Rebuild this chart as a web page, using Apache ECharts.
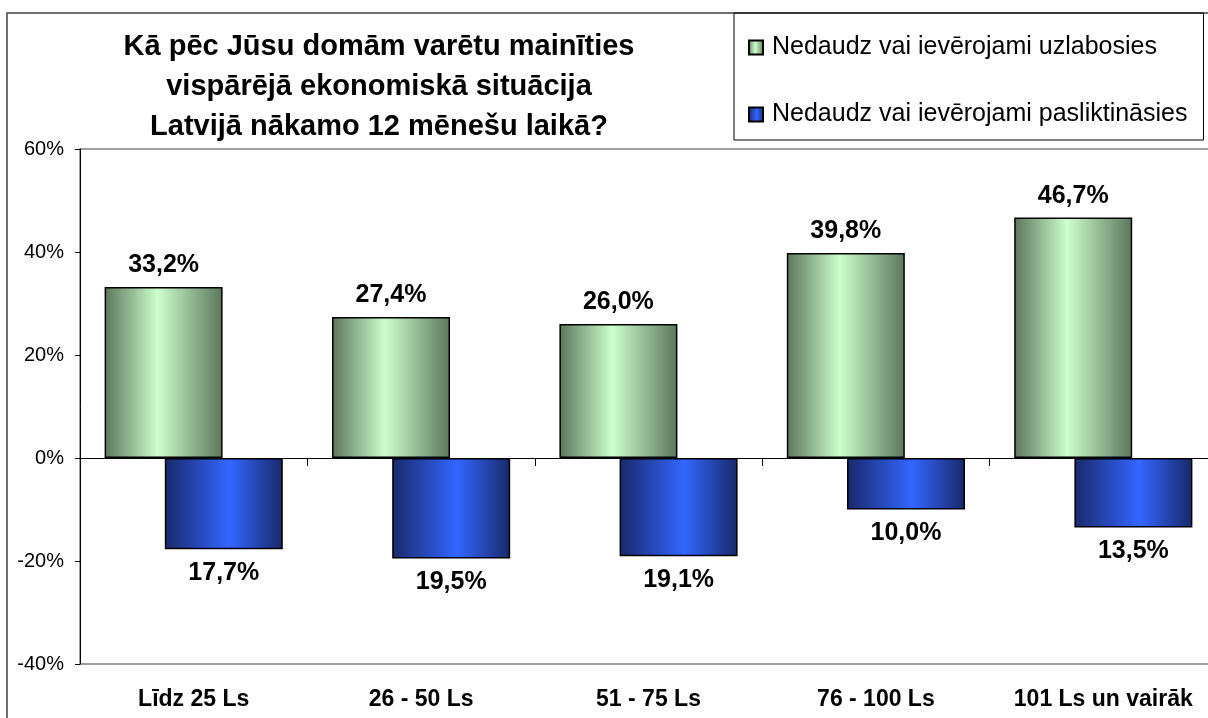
<!DOCTYPE html>
<html>
<head>
<meta charset="UTF-8">
<title>Ekonomiskā situācija</title>
<style>
  html, body { margin: 0; padding: 0; background: #fff; }
  #chart { width: 1208px; height: 718px; }
</style>
</head>
<body>
<div id="chart"></div>
<script src="https://cdn.jsdelivr.net/npm/echarts@6/dist/echarts.min.js"></script>
<script>
var categories = ['Līdz 25 Ls', '26 - 50 Ls', '51 - 75 Ls', '76 - 100 Ls', '101 Ls un vairāk'];
var improve = [33.2, 27.4, 26.0, 39.8, 46.7];
var worsen = [-17.7, -19.5, -19.1, -10.0, -13.5];
var seriesNames = ['Nedaudz vai ievērojami uzlabosies', 'Nedaudz vai ievērojami pasliktināsies'];
var yTicks = { min: -40, max: 60, step: 20 };
var titleText = 'Kā pēc Jūsu domām varētu mainīties\nvispārējā ekonomiskā situācija\nLatvijā nākamo 12 mēnešu laikā?';

var font = 'Arial, "Liberation Sans", sans-serif';

function pct(v) {
  return Math.abs(v).toFixed(1).replace('.', ',') + '%';
}

function grad(dark, light, mid) {
  return new echarts.graphic.LinearGradient(0, 0, 1, 0, [
    { offset: 0, color: dark },
    { offset: mid, color: light },
    { offset: 1, color: dark }
  ]);
}

var chart = echarts.init(document.getElementById('chart'));
var option = {
  backgroundColor: '#fff',
  animation: false,
  title: {
    text: titleText,
    left: 374,
    top: 22,
    textAlign: 'center',
    textStyle: { fontFamily: font, fontSize: 29, fontWeight: 'bold', color: '#000', lineHeight: 40 }
  },
  legend: {
    orient: 'vertical',
    left: 734,
    top: 13,
    padding: [22, 16, 13, 14],
    itemGap: 42,
    itemWidth: 14,
    itemHeight: 14,
    borderColor: '#000',
    borderWidth: 1,
    icon: 'rect',
    textStyle: { fontFamily: font, fontSize: 25, lineHeight: 25, color: '#000', padding: [0, 0, 0, 4] },
    data: seriesNames
  },
  graphic: [{
    type: 'rect',
    shape: { x: 7, y: 13, width: 1240, height: 730 },
    style: { fill: 'none', stroke: '#404040', lineWidth: 1.5 },
    silent: true,
    z: 0
  }],
  grid: {
    left: 80,
    top: 149,
    width: 1137,
    height: 515,
    outerBoundsMode: 'none',
    show: true,
    borderColor: '#808080',
    borderWidth: 1.5
  },
  xAxis: [{
    type: 'category',
    data: categories,
    axisLine: { onZero: true, lineStyle: { color: '#000', width: 1 } },
    axisTick: { show: true, interval: 0, length: 8, lineStyle: { color: '#000' } },
    axisLabel: { show: false },
    z: 5
  }, {
    type: 'category',
    data: categories,
    position: 'bottom',
    axisLine: { show: false, onZero: false },
    axisTick: { show: false },
    axisLabel: { interval: 0, margin: 24, fontFamily: font, fontSize: 23, fontWeight: 'bold', color: '#000' }
  }],
  yAxis: {
    type: 'value',
    min: yTicks.min,
    max: yTicks.max,
    interval: yTicks.step,
    axisLine: { show: true, lineStyle: { color: '#000' } },
    axisTick: { show: true, length: 5, lineStyle: { color: '#000' } },
    splitLine: { show: false },
    axisLabel: {
      margin: 16,
      fontFamily: font,
      fontSize: 20,
      color: '#000',
      formatter: function (v) { return v + '%'; }
    }
  },
  series: [{
    name: seriesNames[0],
    type: 'bar',
    data: improve,
    barWidth: 118,
    barGap: '-49%',
    itemStyle: { color: grad('#5c765c', '#ccffcc', 0.45), borderColor: '#000', borderWidth: 1.5 },
    label: {
      show: true,
      position: 'top',
      distance: 9,
      fontFamily: font,
      fontSize: 25,
      fontWeight: 'bold',
      color: '#000',
      formatter: function (p) { return pct(p.value); }
    }
  }, {
    name: seriesNames[1],
    type: 'bar',
    data: worsen,
    barWidth: 118,
    itemStyle: { color: grad('#19296a', '#3366ff', 0.55), borderColor: '#000', borderWidth: 1.5 },
    label: {
      show: true,
      position: 'bottom',
      distance: 11,
      fontFamily: font,
      fontSize: 25,
      fontWeight: 'bold',
      color: '#000',
      formatter: function (p) { return pct(p.value); }
    }
  }]
};
chart.setOption(option);
</script>
</body>
</html>
